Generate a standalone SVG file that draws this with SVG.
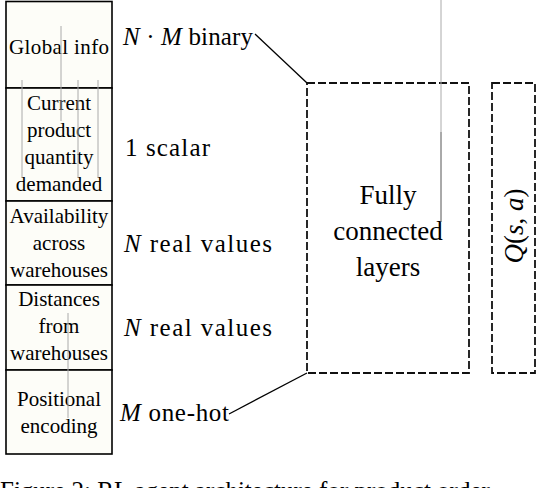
<svg xmlns="http://www.w3.org/2000/svg" width="538" height="488" viewBox="0 0 538 488">
<style>
.box{fill:#fdfdf8;stroke:#000;stroke-width:1.6}
.dash{fill:none;stroke:#111;stroke-width:1.8;stroke-dasharray:8 3}
text{font-family:"Liberation Serif","Times New Roman",serif;fill:#000}
.bt{font-size:21px;text-anchor:middle}
.lb{font-size:25px}
.fc{font-size:27px;text-anchor:middle}
.it{font-style:italic}
.conn{stroke:#000;stroke-width:1.3;fill:none}
.art{stroke:#aaa;stroke-width:1;fill:none}
</style>
<rect width="538" height="488" fill="#fff"/>
<g id="global-info">
<rect class="box" x="6" y="1.5" width="106" height="86.5"/>
<text class="bt" x="59" y="54" textLength="100" lengthAdjust="spacing">Global info</text>
</g>
<g id="current-product">
<rect class="box" x="6" y="88" width="106" height="113"/>
<text class="bt" x="59" y="110">Current</text>
<text class="bt" x="59" y="137">product</text>
<text class="bt" x="59" y="164">quantity</text>
<text class="bt" x="59" y="191">demanded</text>
</g>
<g id="availability">
<rect class="box" x="6" y="201" width="106" height="84"/>
<text class="bt" x="59" y="223">Availability</text>
<text class="bt" x="59" y="250">across</text>
<text class="bt" x="59" y="277">warehouses</text>
</g>
<g id="distances">
<rect class="box" x="6" y="285" width="106" height="85"/>
<text class="bt" x="59" y="306">Distances</text>
<text class="bt" x="59" y="333">from</text>
<text class="bt" x="59" y="360">warehouses</text>
</g>
<g id="positional">
<rect class="box" x="6" y="370" width="106" height="84"/>
<text class="bt" x="59" y="406">Positional</text>
<text class="bt" x="59" y="433">encoding</text>
</g>
<g id="labels">
<text class="lb" x="123" y="45" textLength="130" lengthAdjust="spacing"><tspan class="it">N</tspan> · <tspan class="it">M</tspan> binary</text>
<text class="lb" x="125" y="156" textLength="85" lengthAdjust="spacing">1 scalar</text>
<text class="lb" x="124" y="252" textLength="148" lengthAdjust="spacing"><tspan class="it">N</tspan> real values</text>
<text class="lb" x="124" y="336" textLength="148" lengthAdjust="spacing"><tspan class="it">N</tspan> real values</text>
<text class="lb" x="120" y="421" textLength="109" lengthAdjust="spacing"><tspan class="it">M</tspan> one-hot</text>
</g>
<g id="fully-connected">
<rect class="dash" x="307" y="83" width="162" height="290"/>
<text class="fc" x="388" y="204">Fully</text>
<text class="fc" x="388" y="240">connected</text>
<text class="fc" x="388" y="276">layers</text>
</g>
<g id="q-value">
<rect class="dash" x="492" y="83" width="43" height="290"/>
<text class="fc" font-size="28" transform="translate(523,226) rotate(-90)"><tspan class="it">Q</tspan>(<tspan class="it">s</tspan>, <tspan class="it">a</tspan>)</text>
</g>
<g id="connectors">
<line class="conn" x1="255" y1="34" x2="307" y2="83"/>
<line class="conn" x1="229" y1="414" x2="307" y2="373"/>
</g>
<g id="artifacts">
<line class="art" x1="61" y1="26" x2="61" y2="121"/>
<line class="art" x1="22" y1="80" x2="22" y2="177"/>
<line class="art" x1="78" y1="80" x2="78" y2="177"/>
<line class="art" x1="98" y1="80" x2="98" y2="177"/>
<line class="art" x1="68" y1="313" x2="68" y2="418"/>
<line class="art" x1="441" y1="0" x2="441" y2="132"/>
<line stroke="#555" stroke-width="1" x1="441" y1="132" x2="441" y2="222"/>
</g>
<text font-size="25" x="0" y="499">Figure 2: RL agent architecture for product order</text>
</svg>
